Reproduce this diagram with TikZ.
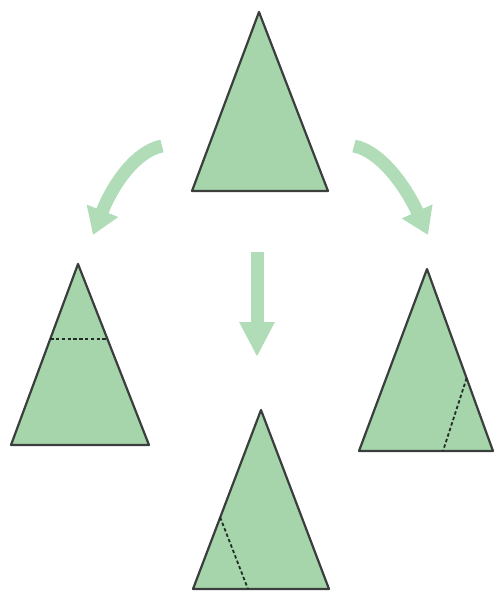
\documentclass[tikz,border=0pt]{standalone}
\usepackage{xcolor}
\usepackage{tikz}
\usetikzlibrary{arrows.meta, calc}
\definecolor{pieceFill}{RGB}{166,213,172}
\definecolor{arrowFill}{RGB}{176,221,184}
\definecolor{edgeInk}{RGB}{58,62,60}
\definecolor{cutInk}{RGB}{36,44,38}
\tikzset{
  piece/.style={
    draw=edgeInk,
    fill=pieceFill,
    line width=2.2pt,
    line join=round
  },
  cutline/.style={
    dashed,
    dash pattern=on 3.4pt off 2.4pt,
    line width=1.8pt,
    draw=cutInk
  },
  turnArrow/.style={-{Triangle[length=26pt,width=32pt]}, line width=13pt, draw=arrowFill},
  dropArrow/.style={-{Triangle[length=35pt,width=33pt]}, line width=13pt, draw=arrowFill}
}
\begin{document}
\begin{tikzpicture}[x=1pt, y=-1pt]
  \useasboundingbox (0,0) rectangle (495,592);

  % whole triangle
  \coordinate (topApex) at (259,12);
  \coordinate (topLeft) at (192,191);
  \coordinate (topRight) at (328,191);
  \draw[piece] (topApex) -- (topLeft) -- (topRight) -- cycle;

  % cut parallel to the base
  \coordinate (leftApex) at (78,264);
  \coordinate (leftLeft) at (11,445);
  \coordinate (leftRight) at (149,445);
  \draw[piece] (leftApex) -- (leftLeft) -- (leftRight) -- cycle;
  \coordinate (leftCutA) at ($(leftApex)!0.415!(leftLeft)$);
  \coordinate (leftCutB) at ($(leftApex)!0.415!(leftRight)$);
  \draw[cutline] (leftCutA) -- (leftCutB);

  % cut from right side to base
  \coordinate (rightApex) at (427,269);
  \coordinate (rightLeft) at (359,451);
  \coordinate (rightRight) at (493,451);
  \draw[piece] (rightApex) -- (rightLeft) -- (rightRight) -- cycle;
  \coordinate (rightCutA) at ($(rightApex)!0.6!(rightRight)$);
  \coordinate (rightCutB) at (443,451);
  \draw[cutline] (rightCutA) -- (rightCutB);

  % cut from left side to base
  \coordinate (lowApex) at (261,410);
  \coordinate (lowLeft) at (193,589);
  \coordinate (lowRight) at (329,589);
  \draw[piece] (lowApex) -- (lowLeft) -- (lowRight) -- cycle;
  \coordinate (lowCutA) at ($(lowApex)!0.6!(lowLeft)$);
  \coordinate (lowCutB) at (248,589);
  \draw[cutline] (lowCutA) -- (lowCutB);

  % arrows
  \coordinate (leftStart) at (162,146);
  \coordinate (leftTip) at (93,235);
  \coordinate (rightStart) at (354,146);
  \coordinate (rightTip) at (428,235);
  \coordinate (dropStart) at (257,252);
  \coordinate (dropTip) at (257,357);
  \draw[turnArrow] (leftStart) .. controls (136,151) and (113,184) .. (leftTip);
  \draw[turnArrow] (rightStart) .. controls (380,151) and (405,185) .. (rightTip);
  \draw[dropArrow] (dropStart) -- (dropTip);
\end{tikzpicture}
\end{document}
